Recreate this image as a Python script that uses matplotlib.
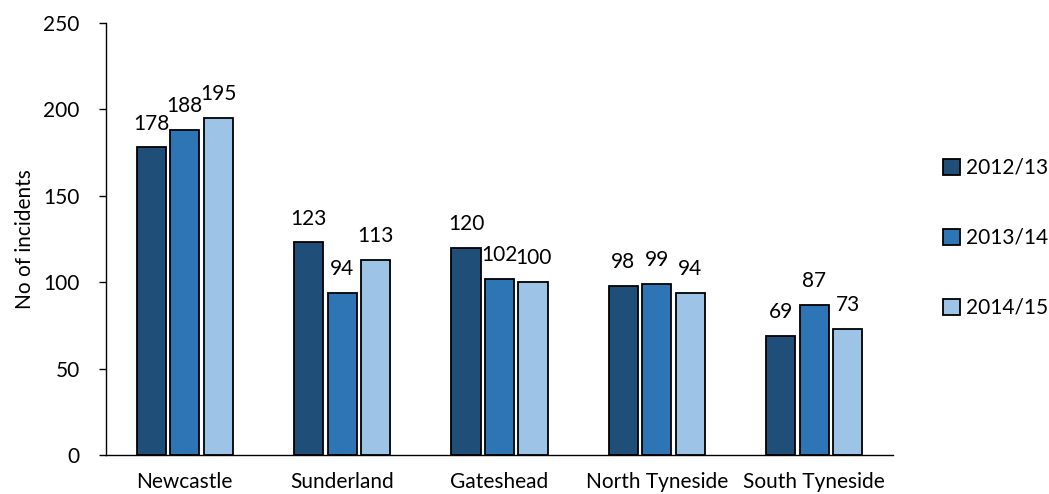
import matplotlib
matplotlib.use("Agg")
import matplotlib.pyplot as plt
import numpy as np

plt.rcParams['font.family'] = ['Lato', 'DejaVu Sans']

categories = ["Newcastle", "Sunderland", "Gateshead", "North Tyneside", "South Tyneside"]
series_names = ["2012/13", "2013/14", "2014/15"]
v_2012 = [178, 123, 120, 98, 69]
v_2013 = [188, 94, 102, 99, 87]
v_2014 = [195, 113, 100, 94, 73]
colors = ["#1F4E79", "#2E75B6", "#9DC3E6"]

fig = plt.figure(figsize=(10.49, 4.94), dpi=100)
ax = fig.add_axes([106/1049, 39/494, (893-106)/1049, (455-23)/494])

x = np.arange(len(categories))
width = 0.185
step = 0.213
fs = 15
for i, (vals, name, c) in enumerate(zip([v_2012, v_2013, v_2014], series_names, colors)):
    bars = ax.bar(x + (i - 1) * step, vals, width, color=c, edgecolor='black',
                  linewidth=1.3, label=name)
    for b, v in zip(bars, vals):
        ax.annotate(str(v), (b.get_x() + b.get_width() / 2, v), xytext=(0, 10),
                    textcoords='offset points', ha='center', va='bottom', fontsize=fs)

ax.set_xlim(-0.5, len(categories) - 0.5)
ax.set_ylim(0, 250)
ax.set_yticks(range(0, 251, 50))
ax.set_xticks(x)
ax.set_xticklabels(categories, fontsize=fs)
ax.tick_params(axis='x', length=0, pad=12)
ax.tick_params(axis='y', length=5, width=1, labelsize=fs, pad=14)
ax.spines['top'].set_visible(False)
ax.spines['right'].set_visible(False)
ax.spines['left'].set_linewidth(1)
ax.spines['bottom'].set_linewidth(1)
ax.set_ylabel("No of incidents", fontsize=fs, labelpad=6)

fig.legend(loc='center left', bbox_to_anchor=(943/1049, 1 - 238/494), frameon=False,
           fontsize=fs, handlelength=0.8, handleheight=0.8, handletextpad=0.3,
           labelspacing=2.4, borderpad=0, borderaxespad=0)

fig.savefig("out.png", dpi=100)
